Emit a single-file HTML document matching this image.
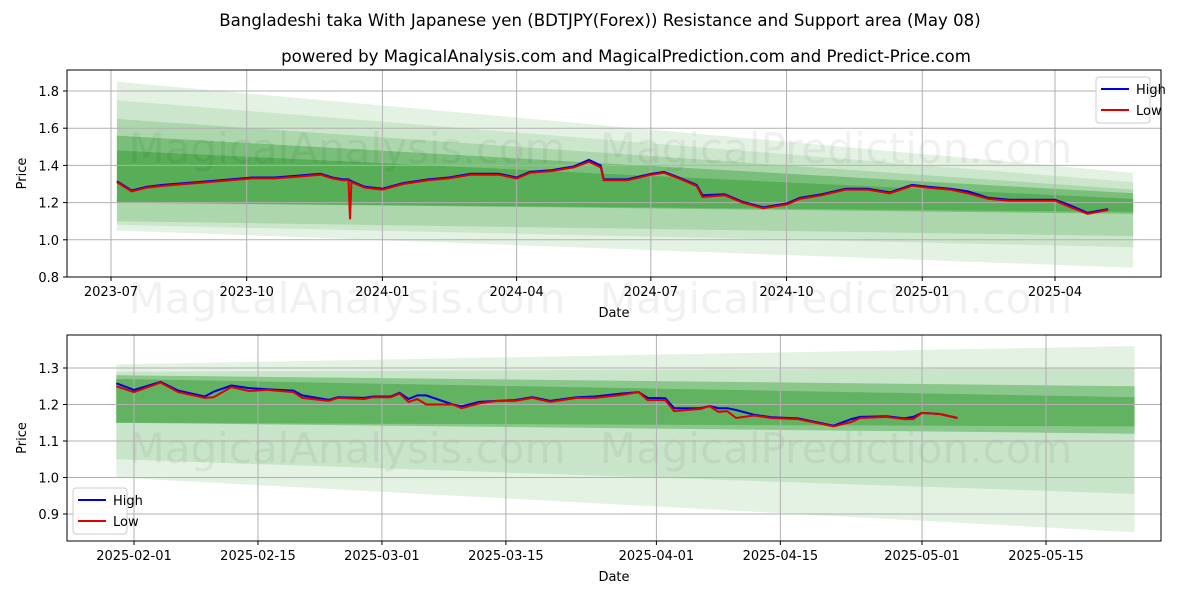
<!DOCTYPE html>
<html><head><meta charset="utf-8"><style>
html,body{margin:0;padding:0;background:#fff;}
svg{display:block;font-family:"DejaVu Sans","Liberation Sans",sans-serif;}
</style></head><body>
<svg id="chart" width="1200" height="600" viewBox="0 0 1200 600" xmlns="http://www.w3.org/2000/svg">
<text x="600" y="26" text-anchor="middle" font-size="16.6">Bangladeshi taka With Japanese yen (BDTJPY(Forex)) Resistance and Support area (May 08)</text>
<text x="626" y="62" text-anchor="middle" font-size="16.6">powered by MagicalAnalysis.com and MagicalPrediction.com and Predict-Price.com</text>
<g id="top"></g><g id="bot"></g>
</svg>
<script>
// ---- data: top chart ----
const topDates=["2023-07-05","2023-07-15","2023-07-25","2023-08-05","2023-08-20","2023-09-05","2023-09-20","2023-10-05","2023-10-20","2023-11-05","2023-11-20","2023-11-28","2023-12-05","2023-12-09","2023-12-10","2023-12-11","2023-12-20","2024-01-01","2024-01-15","2024-02-01","2024-02-15","2024-03-01","2024-03-20","2024-04-01","2024-04-10","2024-04-25","2024-05-10","2024-05-20","2024-05-28","2024-05-30","2024-06-15","2024-07-01","2024-07-10","2024-07-20","2024-08-01","2024-08-05","2024-08-20","2024-09-01","2024-09-15","2024-10-01","2024-10-10","2024-10-25","2024-11-10","2024-11-25","2024-12-10","2024-12-25","2025-01-05","2025-01-20","2025-02-01","2025-02-15","2025-03-01","2025-03-15","2025-04-01","2025-04-10","2025-04-23","2025-05-07"];
const topLow=[1.31,1.26,1.28,1.29,1.30,1.31,1.32,1.33,1.33,1.34,1.35,1.33,1.32,1.32,1.11,1.31,1.28,1.27,1.30,1.32,1.33,1.35,1.35,1.33,1.36,1.37,1.39,1.42,1.39,1.32,1.32,1.35,1.36,1.33,1.29,1.23,1.24,1.20,1.17,1.19,1.22,1.24,1.27,1.27,1.25,1.29,1.28,1.27,1.25,1.22,1.21,1.21,1.21,1.18,1.14,1.16];
const topHigh=[1.315,1.265,1.285,1.295,1.305,1.315,1.325,1.335,1.335,1.345,1.355,1.335,1.325,1.325,1.32,1.315,1.285,1.275,1.305,1.325,1.335,1.355,1.355,1.335,1.365,1.375,1.395,1.43,1.40,1.325,1.325,1.355,1.365,1.335,1.295,1.24,1.245,1.205,1.175,1.195,1.225,1.245,1.275,1.275,1.255,1.295,1.285,1.275,1.26,1.225,1.215,1.215,1.215,1.19,1.145,1.165];
const topYTicks=[0.8,1.0,1.2,1.4,1.6,1.8];
const topXTicks=["2023-07","2023-10","2024-01","2024-04","2024-07","2024-10","2025-01","2025-04"];
const topBandStart="2023-07-05", topBandEnd="2025-05-24";
const topBandUpStart=[1.85,1.75,1.65,1.56,1.48];
const topBandLoStart=[1.05,1.08,1.10,1.20,1.20];
const topBandUpEnd=[1.36,1.31,1.27,1.25,1.22];
const topBandLoEnd=[0.85,0.96,1.02,1.14,1.15];
const topBandAlpha=[0.13,0.13,0.2,0.4,0.45];
// ---- data: bottom chart ----
const botDates=["2025-01-30","2025-02-01","2025-02-04","2025-02-06","2025-02-09","2025-02-10","2025-02-12","2025-02-14","2025-02-16","2025-02-19","2025-02-20","2025-02-23","2025-02-24","2025-02-27","2025-02-28","2025-03-02","2025-03-03","2025-03-04","2025-03-05","2025-03-06","2025-03-09","2025-03-10","2025-03-12","2025-03-14","2025-03-16","2025-03-18","2025-03-20","2025-03-23","2025-03-25","2025-03-28","2025-03-30","2025-03-31","2025-04-02","2025-04-03","2025-04-06","2025-04-07","2025-04-08","2025-04-09","2025-04-10","2025-04-12","2025-04-14","2025-04-17","2025-04-21","2025-04-23","2025-04-24","2025-04-27","2025-04-29","2025-04-30","2025-05-01","2025-05-03","2025-05-05"];
const botLow=[1.250,1.234,1.260,1.234,1.218,1.220,1.248,1.237,1.240,1.234,1.218,1.210,1.218,1.215,1.220,1.220,1.230,1.207,1.215,1.200,1.200,1.190,1.203,1.210,1.210,1.218,1.207,1.218,1.218,1.226,1.234,1.212,1.212,1.182,1.188,1.196,1.180,1.182,1.163,1.170,1.163,1.160,1.140,1.152,1.163,1.166,1.160,1.160,1.177,1.174,1.163];
const botHigh=[1.258,1.240,1.262,1.238,1.222,1.235,1.252,1.245,1.242,1.238,1.225,1.213,1.220,1.218,1.222,1.222,1.232,1.215,1.225,1.225,1.200,1.195,1.207,1.210,1.212,1.220,1.210,1.220,1.222,1.230,1.234,1.218,1.217,1.190,1.190,1.196,1.190,1.190,1.185,1.172,1.165,1.162,1.142,1.160,1.166,1.168,1.162,1.166,1.177,1.174,1.163];
const botYTicks=[0.9,1.0,1.1,1.2,1.3];
const botXTicks=["2025-02-01","2025-02-15","2025-03-01","2025-03-15","2025-04-01","2025-04-15","2025-05-01","2025-05-15"];
const botBandStart="2025-01-30", botBandEnd="2025-05-25";
const botBandUpStart=[1.31,1.29,1.28,1.27];
const botBandLoStart=[1.00,1.05,1.15,1.15];
const botBandUpEnd=[1.36,1.30,1.25,1.22];
const botBandLoEnd=[0.85,0.955,1.12,1.14];
const botBandAlpha=[0.13,0.15,0.4,0.45];

const NS="http://www.w3.org/2000/svg";
function mk(p,t,a){const e=document.createElementNS(NS,t);for(const k in a)e.setAttribute(k,a[k]);p.appendChild(e);return e;}
function d2n(s){const p=s.split("-").map(Number);return Date.UTC(p[0],p[1]-1,p[2]||1)/864e5;}

function draw(g,cfg){
  const L=67,R=1161,T=cfg.T,B=cfg.B;
  const x=v=>cfg.x0+(d2n(v)-d2n(cfg.d0))*cfg.pxd;
  const y=v=>cfg.y0-(v-cfg.v0)*cfg.pyv;
  for(let i=0;i<cfg.bu.length;i++){
    const xs=x(cfg.bs),xe=x(cfg.be);
    const p=mk(g,"polygon",{points:`${xs},${y(cfg.bu[i])} ${xe},${y(cfg.bue[i])} ${xe},${y(cfg.ble[i])} ${xs},${y(cfg.bl[i])}`,fill:"#2e9a2e","fill-opacity":cfg.ba[i]});
    
    
  }
  cfg.wm.forEach(w=>{const t=mk(g,"text",{x:w[1],y:w[2],"text-anchor":"middle","font-size":42,fill:"#000","fill-opacity":0.055});t.textContent=w[0];
    
    });
  cfg.yt.forEach(v=>{mk(g,"line",{x1:L,x2:R,y1:y(v),y2:y(v),stroke:"#b0b0b0","stroke-width":1});
    mk(g,"line",{x1:L-4,x2:L,y1:y(v),y2:y(v),stroke:"#000"});
    const t=mk(g,"text",{x:L-8,y:y(v)+5,"text-anchor":"end","font-size":13});t.textContent=v.toFixed(1);
    
    });
  cfg.xt.forEach(v=>{const xx=x(v);mk(g,"line",{x1:xx,x2:xx,y1:T,y2:B,stroke:"#b0b0b0","stroke-width":1});
    mk(g,"line",{x1:xx,x2:xx,y1:B,y2:B+4,stroke:"#000"});
    const t=mk(g,"text",{x:xx,y:B+19,"text-anchor":"middle","font-size":13});t.textContent=v;
    
    });
  const pts=(arr)=>cfg.dates.map((d,i)=>x(d).toFixed(1)+","+y(arr[i]).toFixed(1)).join(" ");
  const hl=mk(g,"polyline",{points:pts(cfg.hi),fill:"none",stroke:"#0000e0","stroke-width":2});
  
  
  const ll=mk(g,"polyline",{points:pts(cfg.lo),fill:"none",stroke:"#e00000","stroke-width":2});
  
  
  const fr=mk(g,"rect",{x:L,y:T,width:R-L,height:B-T,fill:"none",stroke:"#000","stroke-width":1});
  
  
  const xl=mk(g,"text",{x:(L+R)/2,y:B+40,"text-anchor":"middle","font-size":13});xl.textContent="Date";
  
  
  const yl=mk(g,"text",{x:0,y:0,"text-anchor":"middle","font-size":13,transform:`translate(26,${(T+B)/2}) rotate(-90)`});yl.textContent="Price";
  
  
  const lg=mk(g,"g",{});
  
  
  const lx=cfg.lx,ly=cfg.ly;
  mk(lg,"rect",{x:lx,y:ly,width:54,height:46,rx:3,fill:"#fff","fill-opacity":0.85,stroke:"#ccc"});
  mk(lg,"line",{x1:lx+5,x2:lx+33,y1:ly+12,y2:ly+12,stroke:"#0000e0","stroke-width":2});
  mk(lg,"line",{x1:lx+5,x2:lx+33,y1:ly+33,y2:ly+33,stroke:"#e00000","stroke-width":2});
  const t1=mk(lg,"text",{x:lx+40,y:ly+17,"font-size":13});t1.textContent="High";
  
  
  const t2=mk(lg,"text",{x:lx+40,y:ly+38,"font-size":13});t2.textContent="Low";
  
  
}
const gt=document.getElementById("top");


draw(gt,{T:70,B:277,x0:111,d0:"2023-07-01",pxd:944/640,y0:277,v0:0.8,pyv:186,
  bs:topBandStart,be:topBandEnd,bu:topBandUpStart,bl:topBandLoStart,bue:topBandUpEnd,ble:topBandLoEnd,ba:topBandAlpha,
  yt:topYTicks,xt:topXTicks,dates:topDates,lo:topLow,hi:topHigh,lx:1096,ly:77,
  wm:[["MagicalAnalysis.com",347,163],["MagicalPrediction.com",836,163],["MagicalAnalysis.com",347,313],["MagicalPrediction.com",836,313]]});
const gb=document.getElementById("bot");


draw(gb,{T:335,B:541,x0:134,d0:"2025-02-01",pxd:912/103,y0:514,v0:0.9,pyv:365,
  bs:botBandStart,be:botBandEnd,bu:botBandUpStart,bl:botBandLoStart,bue:botBandUpEnd,ble:botBandLoEnd,ba:botBandAlpha,
  yt:botYTicks,xt:botXTicks,dates:botDates,lo:botLow,hi:botHigh,lx:73,ly:488,
  wm:[["MagicalAnalysis.com",347,463],["MagicalPrediction.com",836,463]]});
</script>
</body></html>
